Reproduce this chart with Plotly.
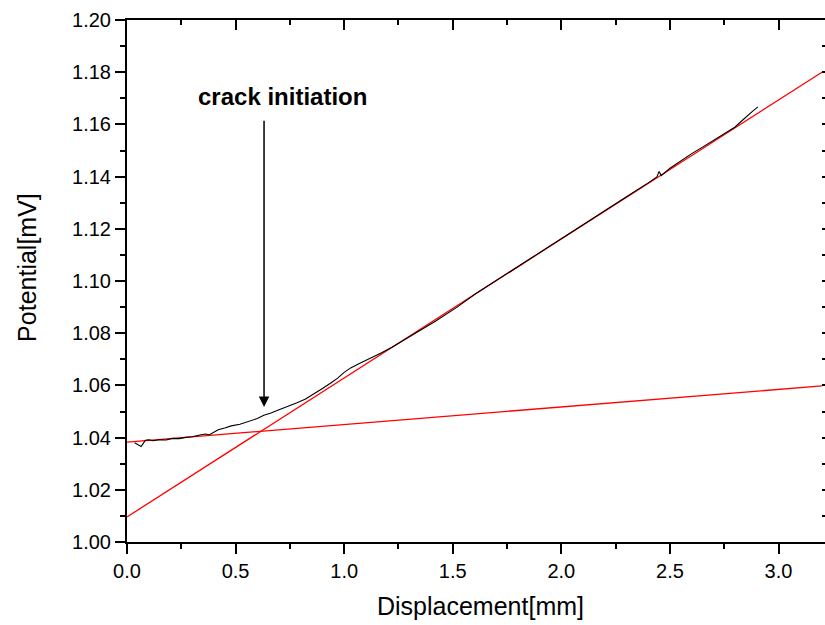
import plotly.graph_objects as go

# Measured curve (black)
disp = [0.035, 0.045, 0.055, 0.065, 0.075, 0.085, 0.10, 0.12, 0.15, 0.18, 0.21, 0.24, 0.27, 0.30,
        0.33, 0.36, 0.38, 0.40, 0.42, 0.45, 0.48, 0.52, 0.56, 0.60, 0.63, 0.66, 0.70, 0.74, 0.78,
        0.82, 0.86, 0.90, 0.94, 0.97, 1.00, 1.03, 1.07, 1.12, 1.17, 1.22, 1.27, 1.32, 1.37, 1.42,
        1.47, 1.52, 1.60, 1.70, 1.80, 1.90, 2.00, 2.10, 2.20, 2.30, 2.40, 2.44, 2.45, 2.46, 2.50,
        2.55, 2.60, 2.65, 2.70, 2.75, 2.80, 2.83, 2.86, 2.88, 2.905]
potential = [1.0380, 1.0375, 1.0368, 1.0366, 1.0378, 1.0390, 1.0392, 1.0388, 1.0392, 1.0391, 1.0397,
             1.0396, 1.0401, 1.0403, 1.0409, 1.0414, 1.0411, 1.0419, 1.0430, 1.0437, 1.0445, 1.0451,
             1.0463, 1.0473, 1.0486, 1.0493, 1.0507, 1.0519, 1.0533, 1.0547, 1.0566, 1.0588, 1.0610,
             1.0628, 1.0650, 1.0667, 1.0684, 1.0703, 1.0724, 1.0746, 1.0770, 1.0796, 1.0821, 1.0846,
             1.0873, 1.0900, 1.0948, 1.1002, 1.1056, 1.1110, 1.1163, 1.1216, 1.1271, 1.1323, 1.1376,
             1.1399, 1.1420, 1.1404, 1.1432, 1.1461, 1.1488, 1.1513, 1.1538, 1.1564, 1.1590, 1.1613,
             1.1637, 1.1650, 1.1667]

# Fitted lines (red)
fit_x = [0.0, 3.2]
fit_low = [1.0383, 1.0598]
fit_high = [1.0096, 1.1800]

# Annotation (crack initiation)
crack_x = 0.631
crack_tip_y = 1.0517
crack_tail_y = 1.162
label_x = 0.718
label_y = 1.1705

x_ticks = [0.0, 0.5, 1.0, 1.5, 2.0, 2.5, 3.0]
y_ticks = [1.00, 1.02, 1.04, 1.06, 1.08, 1.10, 1.12, 1.14, 1.16, 1.18, 1.20]

FONT = "Liberation Sans, Arial, sans-serif"
X_RANGE = [0, 3.214]
Y_RANGE = [1.0, 1.2]

fig = go.Figure()
fig.add_trace(go.Scatter(x=fit_x, y=fit_low, mode="lines", line=dict(color="#ff0000", width=1.3),
                         showlegend=False, hoverinfo="skip"))
fig.add_trace(go.Scatter(x=fit_x, y=fit_high, mode="lines", line=dict(color="#ff0000", width=1.3),
                         showlegend=False, hoverinfo="skip"))
fig.add_trace(go.Scatter(x=disp, y=potential, mode="lines", line=dict(color="black", width=1.1),
                         showlegend=False))
fig.add_trace(go.Scatter(x=[], y=[], xaxis="x2", yaxis="y2", showlegend=False, hoverinfo="skip"))

fig.update_layout(
    width=825, height=625,
    margin=dict(l=127, r=0, t=20, b=83),
    plot_bgcolor="white", paper_bgcolor="white",
    font=dict(family=FONT, color="black", size=20),
    xaxis=dict(range=X_RANGE, tickvals=x_ticks, ticktext=[f"{v:.1f}" for v in x_ticks],
               showgrid=False, zeroline=False, showline=True, linecolor="black", linewidth=2,
               ticks="outside", ticklen=10, tickwidth=2, tickcolor="black",
               minor=dict(ticks="outside", ticklen=5, tickwidth=2, tickcolor="black", dtick=0.25,
                          tick0=0, showgrid=False),
               tickfont=dict(size=20, family=FONT)),
    yaxis=dict(range=Y_RANGE, tickvals=y_ticks, ticktext=[f"{v:.2f}" for v in y_ticks],
               showgrid=False, zeroline=False, showline=True, linecolor="black", linewidth=2,
               ticks="outside", ticklen=10, tickwidth=2, tickcolor="black",
               minor=dict(ticks="outside", ticklen=5, tickwidth=2, tickcolor="black", dtick=0.01,
                          tick0=1.0, showgrid=False),
               tickfont=dict(size=20, family=FONT)),
    xaxis2=dict(range=X_RANGE, overlaying="x", side="top", tickvals=x_ticks, showticklabels=False,
                showgrid=False, zeroline=False, showline=True, linecolor="black", linewidth=2,
                ticks="inside", ticklen=10, tickwidth=2, tickcolor="black",
                minor=dict(ticks="inside", ticklen=5, tickwidth=2, tickcolor="black", dtick=0.25,
                           tick0=0, showgrid=False)),
    yaxis2=dict(range=Y_RANGE, overlaying="y", side="right", tickvals=y_ticks, showticklabels=False,
                showgrid=False, zeroline=False, showline=False,
                ticks="inside", ticklen=3, tickwidth=2, tickcolor="black",
                minor=dict(ticks="inside", ticklen=3, tickwidth=2, tickcolor="black", dtick=0.01,
                           tick0=1.0, showgrid=False)),
)

# Axis titles
fig.add_annotation(text="Displacement[mm]", xref="paper", yref="paper", x=0.507, y=-0.1226,
                   xanchor="center", yanchor="middle", showarrow=False,
                   font=dict(size=25, family=FONT, color="black"))
fig.add_annotation(text="Potential[mV]", xref="paper", yref="paper", x=-0.1433, y=0.527,
                   xanchor="center", yanchor="middle", textangle=-90, showarrow=False,
                   font=dict(size=25, family=FONT, color="black"))

# Arrow and label
fig.add_annotation(x=crack_x, y=crack_tip_y, ax=crack_x, ay=crack_tail_y, xref="x", yref="y",
                   axref="x", ayref="y", text="", showarrow=True, arrowhead=2, arrowsize=1.4,
                   arrowwidth=1.5, arrowcolor="black")
fig.add_annotation(text="<b>crack initiation</b>", x=label_x, y=label_y, xref="x", yref="y",
                   showarrow=False, xanchor="center", yanchor="middle",
                   font=dict(size=24, family=FONT, color="black"))

fig.write_html("out.html")
